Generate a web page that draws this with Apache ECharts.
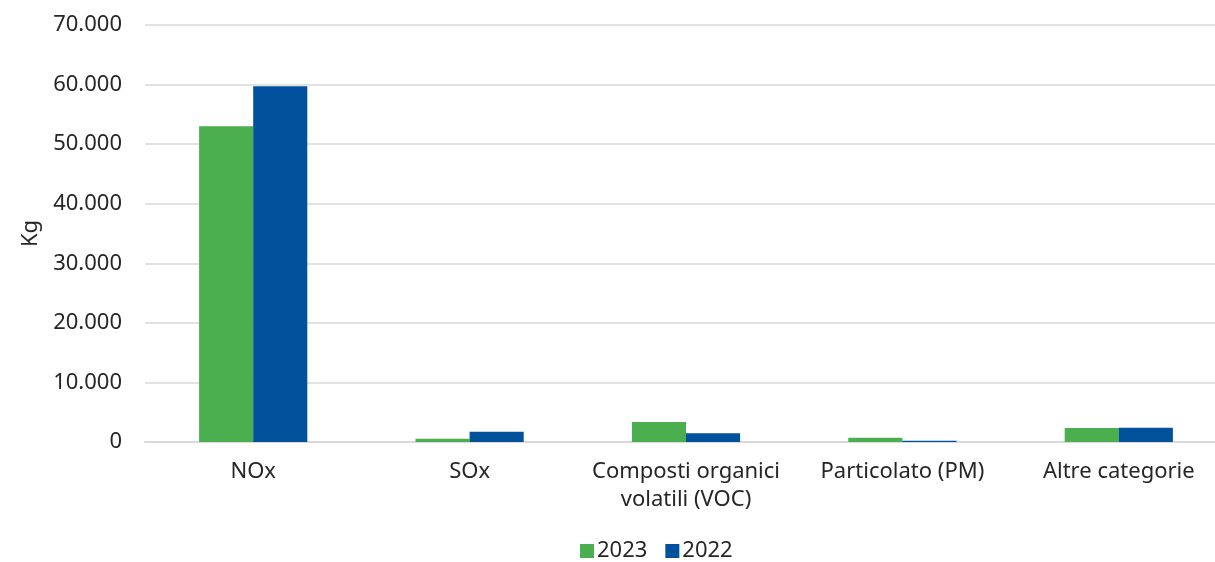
<!DOCTYPE html>
<html>
<head>
<meta charset="utf-8">
<script src="https://cdn.jsdelivr.net/npm/echarts@6/dist/echarts.min.js"></script>
<style>
    html, body { margin: 0; padding: 0; background: #fff; }
    #chart { width: 1215px; height: 562px; }
</style>
</head>
<body>
<div id="chart"></div>
<script>
    // categorie e valori (kg)
    const categorie = ['NOx', 'SOx', 'Composti organici\nvolatili (VOC)', 'Particolato (PM)', 'Altre categorie'];
    const anni = ['2023', '2022'];
    const valori2023 = [53000, 550, 3350, 720, 2350];
    const valori2022 = [59700, 1730, 1450, 200, 2380];
    const tickY = [0, 10000, 20000, 30000, 40000, 50000, 60000, 70000];

    const font = '"Noto Sans", sans-serif';
    const txt = '#262626';
    const fmt = v => String(v).replace(/\B(?=(\d{3})+(?!\d))/g, '.');

    var myChart = echarts.init(document.getElementById('chart'));
    var option = {
        animation: false,
        textStyle: { fontFamily: font },
        grid: {
            left: 145,
            top: 25,
            width: 1082,
            height: 417,
            outerBoundsMode: 'none',
            containLabel: false
        },
        legend: {
            bottom: -5,
            left: 575,
            itemWidth: 14,
            itemHeight: 14,
            itemGap: 18,
            icon: 'rect',
            textStyle: { fontSize: 22, color: txt, fontFamily: font, padding: [0, 0, 0, -2] },
            data: anni
        },
        xAxis: {
            type: 'category',
            data: categorie,
            axisTick: { show: false },
            axisLine: { lineStyle: { color: '#d9d9d9', width: 2 } },
            axisLabel: {
                margin: 16,
                fontSize: 22,
                color: txt,
                lineHeight: 28,
                interval: 0
            }
        },
        yAxis: {
            type: 'value',
            min: tickY[0],
            max: tickY[tickY.length - 1],
            interval: 10000,
            name: 'Kg',
            nameLocation: 'middle',
            nameGap: 103,
            nameRotate: 90,
            nameTextStyle: { fontSize: 22, color: txt },
            axisLine: { show: false },
            axisTick: { show: false },
            splitLine: { lineStyle: { color: '#d9d9d9', width: 1.5 } },
            axisLabel: {
                margin: 23,
                fontSize: 22,
                color: txt,
                formatter: v => fmt(v)
            }
        },
        series: [
            {
                name: '2023',
                type: 'bar',
                data: valori2023,
                barGap: '0%',
                barCategoryGap: '50%',
                itemStyle: { color: '#4bae4f' }
            },
            {
                name: '2022',
                type: 'bar',
                data: valori2022,
                itemStyle: { color: '#02519c' }
            }
        ]
    };
    myChart.setOption(option);
</script>
</body>
</html>
